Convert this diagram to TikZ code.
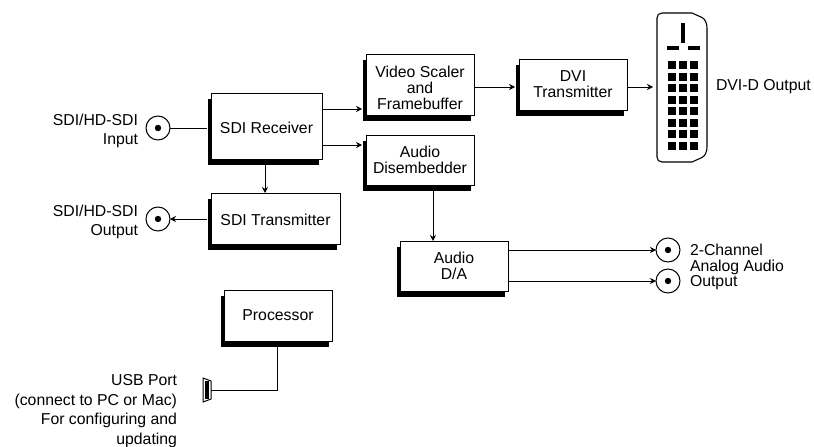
\documentclass[tikz,border=0pt]{standalone}
\usepackage{fontspec}
\setmainfont{Liberation Sans}
\usetikzlibrary{arrows.meta,shadows}
\newcommand{\lowerby}[1]{\rule{0pt}{#1pt}}
\tikzset{
  blockbox/.style={draw=black,line width=1pt,fill=white,inner sep=0pt,outer sep=0pt,align=center,
    font=\fontsize{15.8}{16}\selectfont,
    general shadow={shadow xshift=-3.5pt,shadow yshift=-6pt,fill=black}},
  bnc/.style={draw=black,circle,line width=1pt,minimum size=24pt,inner sep=0pt,outer sep=0pt,fill=white},
  pindot/.style={fill=black},
  lbl/.style={inner sep=0pt,outer sep=0pt,font=\fontsize{15.8}{19.5}\selectfont},
  wire/.style={draw=black,line width=0.9pt},
  arrowwire/.style={wire,-{Stealth[length=6pt,width=6pt]}}
}
\begin{document}
\begin{tikzpicture}[x=1pt,y=-1pt]
\useasboundingbox (0,0) rectangle (814,447);
% blocks
\node[blockbox,minimum width=111pt,minimum height=66pt] (recv) at (266.5,126) {\lowerby{15.5}SDI Receiver};
\node[blockbox,minimum width=129pt,minimum height=51pt] (xmit) at (275.5,218.5) {\lowerby{14}SDI Transmitter};
\node[blockbox,minimum width=108pt,minimum height=61pt] (scal) at (420,84.5) {\lowerby{18}Video Scaler\\and\\Framebuffer};
\node[blockbox,minimum width=108pt,minimum height=51pt] (dvi) at (573,84.5) {DVI\\Transmitter};
\node[blockbox,minimum width=108pt,minimum height=50pt] (dis) at (420,160) {Audio\\Disembedder};
\node[blockbox,minimum width=108pt,minimum height=50pt] (da) at (454,266) {Audio\\D/A};
\node[blockbox,minimum width=108pt,minimum height=51pt] (proc) at (278,315.5) {Processor};
% BNC connectors
\node[bnc] (inp) at (158,128) {};
\node[bnc] (outp) at (158,219) {};
\node[bnc] (aud1) at (668,250) {};
\node[bnc] (aud2) at (668,281) {};
\foreach \n in {inp,outp,aud1,aud2} \fill[pindot] (\n.center) circle (3.2pt);
% DVI connector
\coordinate (dviport) at (657,87);
\draw[line width=1.1pt,fill=white] (662,13) -- (692,13) -- (702,17.5)
  .. controls (705,19) and (707,23) .. (707,28) -- (707,147)
  .. controls (707,152) and (705,156) .. (702,157.5) -- (692,162) -- (662,162)
  .. controls (659,162) and (657,160) .. (657,157) -- (657,18)
  .. controls (657,15) and (659,13) .. (662,13) -- cycle;
\fill[pindot] (681,23) rectangle (685,43);
\fill[pindot] (667,46) rectangle (679,50);
\fill[pindot] (688,46) rectangle (700,50);
\foreach \ya/\yb in {61/69,73/81,84/91.5,96/104,107/115,119/127,130/137.5,142/150}
  \foreach \xa in {668,679,690}
    \fill[pindot] (\xa,\ya) rectangle (\xa+8,\yb);
% USB connector
\coordinate (usbport) at (211,390);
\draw[line width=1pt,fill=white] (203,378) -- (211,381) -- (211,399) -- (203,402) -- cycle;
\fill[pindot] (205,381) rectangle (208.5,399);
% connectors
\draw[wire] (inp.east) -- ([xshift=-4pt,yshift=-2pt]recv.west);
\draw[arrowwire] ([yshift=17pt]recv.east) -- ([xshift=-4pt,yshift=-24.5pt]scal.west);
\draw[arrowwire] ([yshift=-19pt]recv.east) -- ([xshift=-4pt,yshift=15pt]dis.west);
\draw[arrowwire] ([yshift=-6pt,xshift=-1.5pt]recv.south) -- ([xshift=-10.5pt]xmit.north);
\draw[arrowwire] ([xshift=-4pt,yshift=-0.5pt]xmit.west) -- (outp.east);
\draw[arrowwire] ([yshift=-2.5pt]scal.east) -- ([xshift=-4pt,yshift=-2.5pt]dvi.west);
\draw[arrowwire] ([yshift=-2.5pt]dvi.east) -- ([xshift=-4pt]dviport);
\draw[arrowwire] ([yshift=-6pt,xshift=13pt]dis.south) -- ([xshift=-21pt]da.north);
\draw[arrowwire] ([yshift=16pt]da.east) -- (aud1.west);
\draw[arrowwire] ([yshift=-15pt]da.east) -- (aud2.west);
\draw[wire] ([yshift=-6pt,xshift=-1pt]proc.south) |- (usbport);
% labels
\node[lbl,align=right,anchor=east] (linp) at (138,131) {SDI/HD-SDI\\Input};
\node[lbl,align=right,anchor=east] (lout) at (138,222) {SDI/HD-SDI\\Output};
\node[lbl,align=right,anchor=east] (lusb) at (177,411) {USB Port\\(connect to PC or Mac)\\For configuring and\\updating};
\node[lbl,anchor=west] (ldvi) at (716,87) {DVI-D Output};
\node[lbl,align=left,anchor=west,font=\fontsize{15.8}{15.5}\selectfont] (laud) at (690,267) {2-Channel\\Analog Audio\\Output};
\end{tikzpicture}
\end{document}
